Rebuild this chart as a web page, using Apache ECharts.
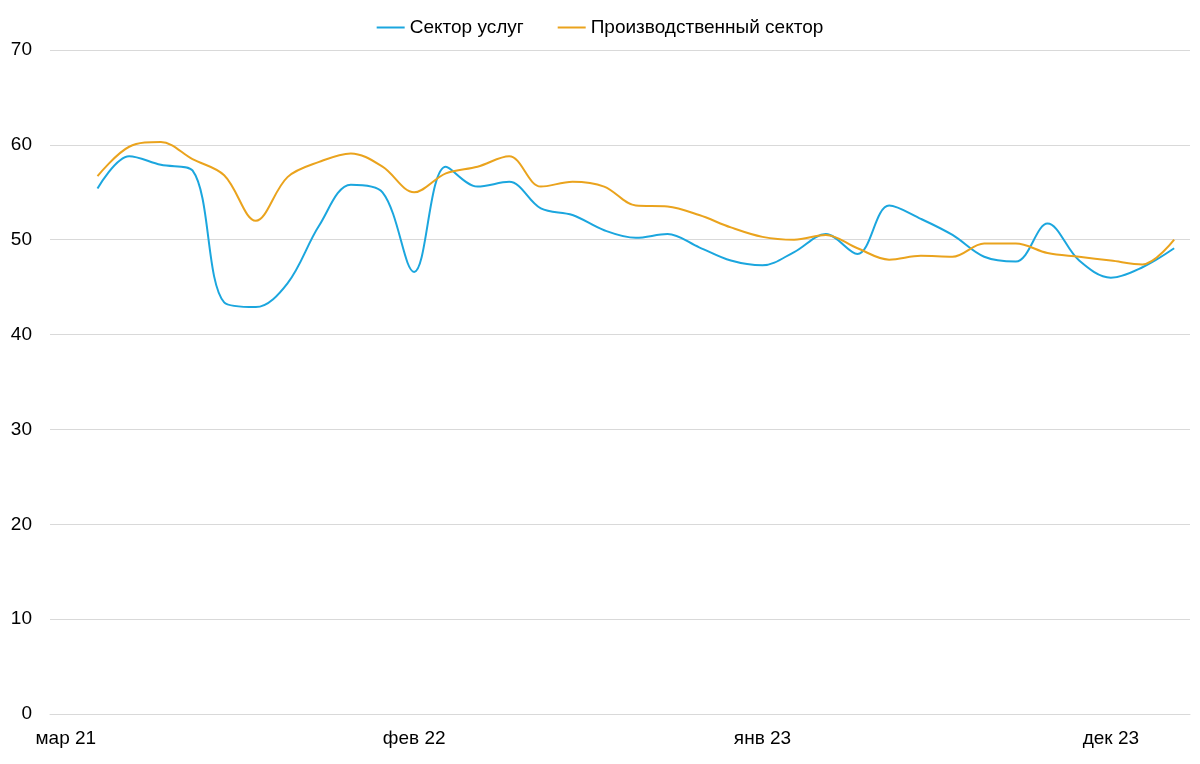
<!DOCTYPE html>
<html>
<head>
<meta charset="utf-8">
<script src="https://cdn.jsdelivr.net/npm/echarts@6/dist/echarts.min.js"></script>
<style>
html,body{margin:0;padding:0;background:#fff;}
#chart{width:1200px;height:764px;}
</style>
</head>
<body>
<div id="chart"></div>
<script>
const categories = [
  'мар 21','апр 21','май 21','июн 21','июл 21','авг 21','сен 21','окт 21','ноя 21','дек 21',
  'янв 22','фев 22','мар 22','апр 22','май 22','июн 22','июл 22','авг 22','сен 22','окт 22',
  'ноя 22','дек 22','янв 23','фев 23','мар 23','апр 23','май 23','июн 23','июл 23','авг 23',
  'сен 23','окт 23','ноя 23','дек 23','янв 24','фев 24'
];
const services = [
  null, 55.4, 58.8, 57.9, 57.3, 43.4, 42.9, 45.4, 51.5, 55.8,
  55.0, 46.6, 57.7, 55.6, 56.1, 53.3, 52.6, 51.0, 50.2, 50.6,
  49.2, 47.8, 47.3, 48.7, 50.6, 48.5, 53.6, 52.2, 50.5, 48.2,
  47.7, 51.7, 47.8, 46.0, 47.1, 49.1
];
const manufacturing = [
  null, 56.7, 59.8, 60.3, 58.5, 56.8, 52.0, 56.6, 58.2, 59.1,
  57.7, 55.0, 57.0, 57.7, 58.8, 55.6, 56.1, 55.6, 53.6, 53.5,
  52.6, 51.3, 50.3, 50.0, 50.5, 49.1, 47.9, 48.3, 48.2, 49.6,
  49.6, 48.6, 48.2, 47.8, 47.4, 50.0
];
const seriesNames = ['Сектор услуг', 'Производственный сектор'];

const chart = echarts.init(document.getElementById('chart'));
chart.setOption({
  backgroundColor: '#fff',
  animation: false,
  textStyle: { fontFamily: 'Liberation Sans, Arial, sans-serif' },
  legend: {
    top: 13,
    left: 'center',
    itemWidth: 28,
    itemHeight: 2,
    itemGap: 34,
    icon: 'rect',
    textStyle: { fontSize: 19, color: '#000', fontFamily: 'Liberation Sans, Arial, sans-serif' },
    data: seriesNames
  },
  grid: { left: 50, right: 10, top: 50, bottom: 50, containLabel: false },
  xAxis: {
    type: 'category',
    data: categories,
    boundaryGap: true,
    axisLine: { lineStyle: { color: '#d9d9d9' } },
    axisTick: { show: false },
    axisLabel: {
      interval: 10,
      fontSize: 19,
      color: '#000',
      margin: 15
    },
    splitLine: { show: false }
  },
  yAxis: {
    type: 'value',
    min: 0,
    max: 70,
    interval: 10,
    axisLine: { show: false },
    axisTick: { show: false },
    axisLabel: { fontSize: 19, color: '#000', margin: 18 },
    splitLine: { lineStyle: { color: '#d9d9d9', width: 1 } }
  },
  series: [
    {
      name: seriesNames[0],
      type: 'line',
      data: services,
      smooth: 0.35,
      showSymbol: false,
      symbol: 'none',
      lineStyle: { color: '#1ba6de', width: 2 },
      itemStyle: { color: '#1ba6de' }
    },
    {
      name: seriesNames[1],
      type: 'line',
      data: manufacturing,
      smooth: 0.35,
      showSymbol: false,
      symbol: 'none',
      lineStyle: { color: '#eaa31d', width: 2 },
      itemStyle: { color: '#eaa31d' }
    }
  ]
});
</script>
</body>
</html>
